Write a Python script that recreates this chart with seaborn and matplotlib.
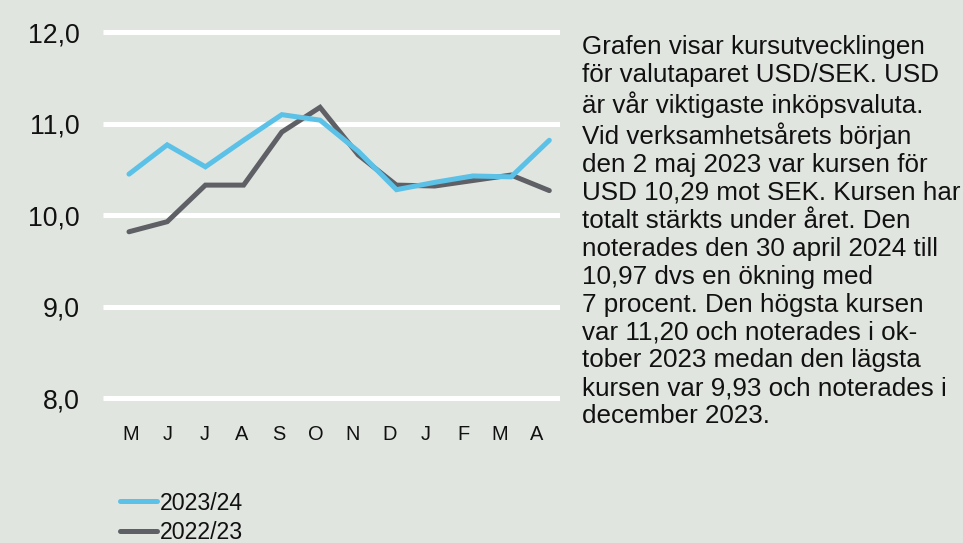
import numpy as np
import pandas as pd
import matplotlib
matplotlib.use("Agg")
import matplotlib.pyplot as plt
import seaborn as sns
from matplotlib.lines import Line2D

months = ["M", "J", "J", "A", "S", "O", "N", "D", "J", "F", "M", "A"]
usd_2023_24 = [10.45, 10.77, 10.53, 10.82, 11.10, 11.04, 10.70, 10.28, 10.36, 10.43, 10.42, 10.82]
usd_2022_23 = [9.82, 9.93, 10.33, 10.33, 10.91, 11.18, 10.66, 10.33, 10.32, 10.38, 10.44, 10.27]
series_names = ["2023/24", "2022/23"]
yticks = [8.0, 9.0, 10.0, 11.0, 12.0]
ytick_labels = ["8,0", "9,0", "10,0", "11,0", "12,0"]
description = ("Grafen visar kursutvecklingen\n"
               "för valutaparet USD/SEK. USD\n"
               "är vår viktigaste inköpsvaluta.\n"
               "Vid verksamhetsårets början\n"
               "den 2 maj 2023 var kursen för\n"
               "USD 10,29 mot SEK. Kursen har\n"
               "totalt stärkts under året. Den\n"
               "noterades den 30 april 2024 till\n"
               "10,97 dvs en ökning med\n"
               "7 procent. Den högsta kursen\n"
               "var 11,20 och noterades i ok-\n"
               "tober 2023 medan den lägsta\n"
               "kursen var 9,93 och noterades i\n"
               "december 2023.")

BG = "#e1e5e0"
BLUE = "#5bc1e7"
DARK = "#5e6065"

sns.set_theme(style="white")
plt.rcParams["font.family"] = ["Liberation Sans", "DejaVu Sans"]

df = pd.DataFrame({
    "idx": list(range(len(months))) * 2,
    "value": usd_2023_24 + usd_2022_23,
    "series": [series_names[0]] * len(months) + [series_names[1]] * len(months),
})

fig = plt.figure(figsize=(9.63, 5.43), dpi=100, facecolor=BG)
ax = fig.add_axes([103 / 963, 1 - 416.6 / 543, (560 - 103) / 963, (416.6 - 14) / 543])
ax.set_facecolor(BG)

for y in yticks:
    ax.axhline(y, color="white", lw=3.6, zorder=1, solid_capstyle="butt")

sns.lineplot(data=df, x="idx", y="value", hue="series",
             palette={series_names[0]: BLUE, series_names[1]: DARK},
             hue_order=[series_names[1], series_names[0]],
             lw=3.6, ax=ax, legend=False, zorder=3,
             solid_capstyle="round", solid_joinstyle="miter")

ax.set_xlim(-0.68, 11.28)
ax.set_ylim(7.8, 12.2)
ax.set_yticks(yticks)
ax.set_yticklabels(ytick_labels, fontsize=19.2, color="#111111")
tick_pos = np.arange(len(months)) * 0.966 + 0.05
ax.set_xticks(tick_pos)
ax.set_xticklabels(months, fontsize=14.4, color="#111111")
ax.tick_params(axis="y", length=0, pad=17)
ax.tick_params(axis="x", length=0, pad=6)
ax.set_xlabel("")
ax.set_ylabel("")
for s in ax.spines.values():
    s.set_visible(False)

handles = [Line2D([], [], color=BLUE, lw=3.6, solid_capstyle="round"),
           Line2D([], [], color=DARK, lw=3.6, solid_capstyle="round")]
leg = fig.legend(handles, series_names, loc="upper left",
                 bbox_to_anchor=(108 / 963, 1 - 480 / 543),
                 frameon=False, fontsize=16.7, handlelength=1.6,
                 handletextpad=0.15, labelspacing=0.28, borderpad=0)
for t in leg.get_texts():
    t.set_color("#111111")

fig.text(582 / 963, 1 - 35 / 543, description, fontsize=18.7, color="#111111",
         ha="left", va="top", linespacing=1.205)

fig.savefig("out.png", dpi=100, facecolor=BG)
